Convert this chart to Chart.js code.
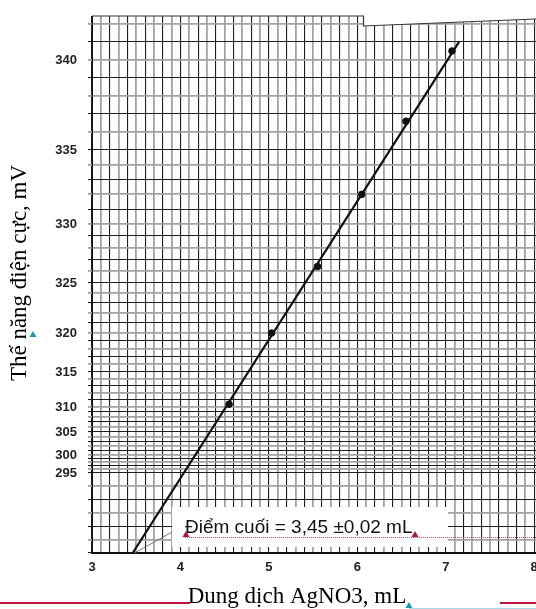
<!DOCTYPE html>
<html>
<head>
<meta charset="utf-8">
<script src="https://cdn.jsdelivr.net/npm/chart.js@4.4.1/dist/chart.umd.min.js"></script>
<style>
  html, body { margin: 0; padding: 0; background: #fff; }
  #wrap { width: 536px; height: 609px; position: relative; }
</style>
</head>
<body>
<div id="wrap"><canvas id="chart_titration"></canvas></div>
<script>
// readings off the titration sheet
const volumes = [4.55, 5.03, 5.55, 6.05, 6.55, 7.07];
const potentials = [310.4, 320.0, 326.4, 332.0, 336.6, 340.5];

// fitted line, read at both ends
const fitVolumes = [3.46, 7.15];
const fitPotentials = [289, 341];

const xTickLabels = [3, 4, 5, 6, 7, 8];
const yTickLabels = [295, 300, 305, 310, 315, 320, 325, 330, 335, 340];
const xTitle = 'Dung dịch AgNO3, mL';
const yTitle = 'Thế năng điện cực, mV';
const endpointText = 'Điểm cuối = 3,45 ±0,02 mL';

// the paper's potential axis is not linear: value -> share of the plot height
const paperScale = [
  [289, 0], [295, 0.149], [300, 0.1825], [305, 0.2253], [310, 0.2719],
  [315, 0.3371], [320, 0.4097], [325, 0.5028], [330, 0.6127],
  [335, 0.7505], [340, 0.9181], [342.44, 1]
];

const xGrid = [];
for (let i = 30; i <= 80; i++) xGrid.push(i / 10);
const yGrid = [];
for (let v = 289; v <= 342; v++) yGrid.push(v);

function interp(v, from, to) {
  let i = 1;
  while (i < paperScale.length - 1 && v > paperScale[i][from]) i++;
  const a = paperScale[i - 1], b = paperScale[i];
  return a[to] + (v - a[from]) * (b[to] - a[to]) / (b[from] - a[from]);
}

class PaperScale extends Chart.LinearScale {
  static id = 'paper';
  static defaults = { ticks: { callback: Chart.Ticks.formatters.numeric } };
  getPixelForValue(value) {
    return value === null ? NaN : this.getPixelForDecimal(interp(value, 0, 1));
  }
  getValueForPixel(pixel) {
    return interp(this.getDecimalForPixel(pixel), 1, 0);
  }
}
Chart.register(PaperScale);

const gridColor = (c) => c.index % 2 ? '#a2a2a2' : '#1e1e1e';
const gridWidth = (c) => c.index % 2 ? 1.8 : 1.1;
const tickFont = { family: "'Liberation Sans', Arial, sans-serif", size: 13, weight: 'bold' };
const titleFont = "23px 'Liberation Serif', 'Times New Roman', serif";

const paperDecor = {
  id: 'paperDecor',
  afterDraw(chart) {
    const { ctx, chartArea: a, scales: { x } } = chart;
    ctx.save();

    // step in the scanned sheet, top right
    const sx = x.getPixelForValue(6.07);
    ctx.fillStyle = '#fff';
    ctx.beginPath();
    ctx.moveTo(sx, 0); ctx.lineTo(a.right, 0);
    ctx.lineTo(a.right, a.top + 3); ctx.lineTo(sx, a.top + 10);
    ctx.closePath(); ctx.fill();
    ctx.strokeStyle = '#333'; ctx.lineWidth = 1.2;
    ctx.beginPath();
    ctx.moveTo(a.left, a.top); ctx.lineTo(sx, a.top);
    ctx.lineTo(sx, a.top + 10); ctx.lineTo(a.right, a.top + 3);
    ctx.stroke();

    // end point label box
    ctx.fillStyle = '#fff';
    ctx.fillRect(172, 507, 276, 40);
    const ex = x.getPixelForValue(fitVolumes[0]);
    ctx.strokeStyle = '#777'; ctx.lineWidth = 1;
    ctx.beginPath(); ctx.moveTo(172, 532); ctx.lineTo(ex + 2, a.bottom); ctx.stroke();
    ctx.fillStyle = '#111';
    ctx.font = "19px 'Liberation Sans', Arial, sans-serif";
    ctx.textBaseline = 'alphabetic';
    ctx.textAlign = 'left';
    ctx.fillText(endpointText, 185, 533);

    ctx.strokeStyle = '#d4486a'; ctx.lineWidth = 1; ctx.setLineDash([1, 1]);
    ctx.beginPath(); ctx.moveTo(185, 537.5); ctx.lineTo(536, 537.5); ctx.stroke();
    ctx.setLineDash([]);

    const tri = (cx, cy, col) => {
      ctx.fillStyle = col;
      ctx.beginPath();
      ctx.moveTo(cx, cy - 4); ctx.lineTo(cx + 3.5, cy + 2); ctx.lineTo(cx - 3.5, cy + 2);
      ctx.closePath(); ctx.fill();
    };
    tri(186, 535, '#b3123f');
    tri(415, 535, '#b3123f');

    // axis titles
    ctx.fillStyle = '#000';
    ctx.font = titleFont;
    ctx.textAlign = 'center';
    ctx.fillText(xTitle, 297, 603);
    ctx.save();
    ctx.translate(26, 273);
    ctx.rotate(-Math.PI / 2);
    ctx.fillText(yTitle, 0, 0);
    ctx.restore();

    tri(33, 335, '#1a9bb3');
    tri(409, 606, '#1a9bb3');

    // slide rules along the bottom
    ctx.strokeStyle = '#c0143c'; ctx.lineWidth = 2;
    ctx.beginPath(); ctx.moveTo(0, 603); ctx.lineTo(190, 603); ctx.stroke();
    ctx.beginPath(); ctx.moveTo(500, 603); ctx.lineTo(536, 603); ctx.stroke();
    ctx.strokeStyle = '#a8dbe6'; ctx.lineWidth = 1;
    ctx.beginPath(); ctx.moveTo(409, 608.5); ctx.lineTo(536, 608.5); ctx.stroke();
    ctx.restore();
  }
};

new Chart('chart_titration', {
  type: 'scatter',
  plugins: [paperDecor],
  data: {
    datasets: [
      {
        data: fitVolumes.map((v, i) => ({ x: v, y: fitPotentials[i] })),
        showLine: true,
        borderColor: '#111',
        borderWidth: 2.2,
        pointRadius: 0
      },
      {
        data: volumes.map((v, i) => ({ x: v, y: potentials[i] })),
        showLine: false,
        pointRadius: 3.3,
        backgroundColor: '#111',
        borderColor: '#111'
      }
    ]
  },
  options: {
    responsive: true,
    maintainAspectRatio: false,
    animation: false,
    layout: { autoPadding: false, padding: { top: 16, right: 0, bottom: 0, left: 0 } },
    plugins: { legend: { display: false }, tooltip: { enabled: false } },
    scales: {
      x: {
        type: 'linear',
        min: 3,
        max: 8.02,
        afterBuildTicks: (s) => { s.ticks = xGrid.map((v) => ({ value: v })); },
        afterFit: (s) => { s.height = 56; s.paddingLeft = 0; s.paddingRight = 0; },
        grid: { color: gridColor, lineWidth: gridWidth, drawTicks: false },
        border: { color: '#111', width: 2 },
        ticks: {
          autoSkip: false, maxRotation: 0, padding: 7, color: '#222', font: tickFont,
          callback: (v) => xTickLabels.includes(v) ? String(v) : ''
        }
      },
      y: {
        type: 'paper',
        min: 289,
        max: 342.44,
        afterBuildTicks: (s) => { s.ticks = yGrid.map((v) => ({ value: v })); },
        afterFit: (s) => { s.width = 92; s.paddingTop = 0; s.paddingBottom = 0; },
        grid: { color: gridColor, lineWidth: gridWidth, tickLength: 4 },
        border: { color: '#111', width: 1 },
        ticks: {
          autoSkip: false, padding: 11, color: '#222', font: tickFont,
          callback: (v) => yTickLabels.includes(v) ? String(v) : ''
        }
      }
    }
  }
});
</script>
</body>
</html>
